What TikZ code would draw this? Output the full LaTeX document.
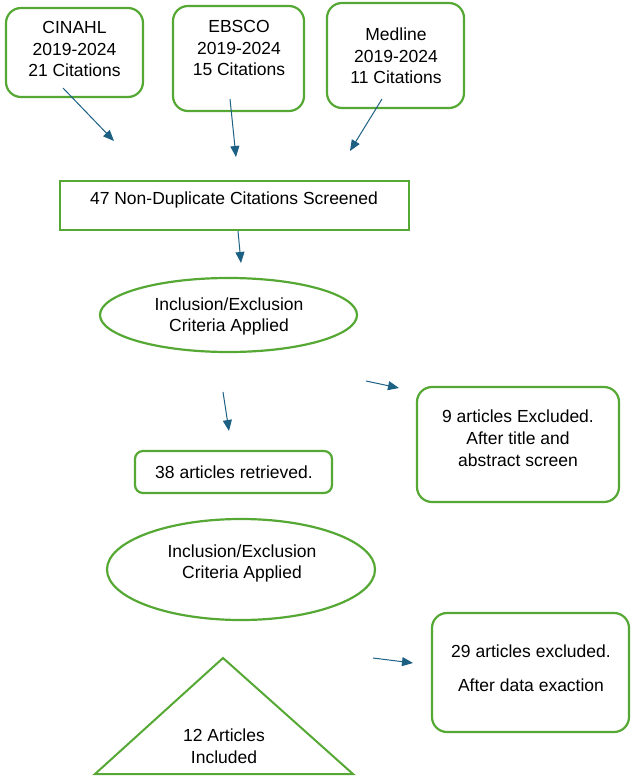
\documentclass[tikz,border=0pt]{standalone}
\usepackage{fontspec}
\setmainfont{Liberation Sans}
\usetikzlibrary{arrows.meta,shapes.geometric}
\definecolor{boxgreen}{RGB}{86,168,52}
\definecolor{arrowblue}{RGB}{28,96,132}
\tikzset{
  x=1pt,y=-1pt,
  roundbox/.style={draw=boxgreen,line width=2.2pt,rounded corners=15pt,inner sep=0pt},
  plainbox/.style={draw=boxgreen,line width=2.2pt,inner sep=0pt},
  ovalbox/.style={draw=boxgreen,line width=2.2pt,ellipse,inner sep=0pt},
  txt/.style={font=\fontsize{17.5}{21.5}\selectfont,align=center,inner sep=0pt},
  conn/.style={draw=arrowblue,line width=1pt,-{Triangle[length=11pt,width=9pt]}}
}
\begin{document}
\begin{tikzpicture}
\useasboundingbox (0,0) rectangle (636,784);
% source boxes
\node[roundbox,minimum width=137pt,minimum height=89pt] (cin) at (74.5,52.5) {};
\node[txt] (cint) at (74.5,49) {CINAHL\\2019-2024\\21 Citations};
\node[roundbox,minimum width=131pt,minimum height=105pt] (ebs) at (238.5,58.5) {};
\node[txt] (ebst) at (239,48) {EBSCO\\2019-2024\\15 Citations};
\node[roundbox,minimum width=137pt,minimum height=105pt] (med) at (395.5,55.5) {};
\node[txt] (medt) at (396,56) {Medline\\2019-2024\\11 Citations};
% screening
\node[plainbox,minimum width=349pt,minimum height=49pt] (scr) at (234.5,205.5) {};
\node[txt] (scrt) at (234,200) {47 Non-Duplicate Citations Screened};
\node[ovalbox,minimum width=257pt,minimum height=74pt] (ie1) at (228.5,315) {};
\node[txt] (ie1t) at (229,316.5) {Inclusion/Exclusion\\Criteria Applied};
\node[roundbox,minimum width=202pt,minimum height=115pt] (ex1) at (518,444.5) {};
\node[txt] (ex1t) at (518,438.5) {9 articles Excluded.\\After title and\\[1pt]abstract screen};
\node[roundbox,rounded corners=8pt,minimum width=197pt,minimum height=42pt] (ret) at (233.5,472) {};
\node[txt] (rett) at (234,472) {38 articles retrieved.};
\node[ovalbox,minimum width=268pt,minimum height=101pt] (ie2) at (241,569.5) {};
\node[txt] (ie2t) at (242,563.5) {Inclusion/Exclusion\\Criteria Applied};
\node[roundbox,minimum width=197pt,minimum height=119pt] (ex2) at (530.5,672.5) {};
\node[txt,font=\fontsize{17.5}{34}\selectfont] (ex2t) at (531,668) {29 articles excluded.\\After data exaction};
% triangle
\coordinate (tA) at (223,658);
\coordinate (tB) at (353,774);
\coordinate (tC) at (95,774);
\draw[boxgreen,line width=2pt,line join=miter] (tA) -- (tB) -- (tC) -- cycle;
\node[txt] (inc) at (224,746) {12 Articles\\Included};
% arrows
\coordinate (a1s) at (63,88);   \coordinate (a1e) at (114,141);
\coordinate (a2s) at (230,99);  \coordinate (a2e) at (236,157);
\coordinate (a3s) at (382,99);  \coordinate (a3e) at (350,151);
\coordinate (a4s) at (238,231); \coordinate (a4e) at (241,263);
\coordinate (a5s) at (223,392); \coordinate (a5e) at (229,431);
\coordinate (a6s) at (366,381); \coordinate (a6e) at (399,388);
\coordinate (a7s) at (373,658); \coordinate (a7e) at (413,663);
\draw[conn] (a1s) -- (a1e);
\draw[conn] (a2s) -- (a2e);
\draw[conn] (a3s) -- (a3e);
\draw[conn] (a4s) -- (a4e);
\draw[conn] (a5s) -- (a5e);
\draw[conn] (a6s) -- (a6e);
\draw[conn] (a7s) -- (a7e);
\end{tikzpicture}
\end{document}
